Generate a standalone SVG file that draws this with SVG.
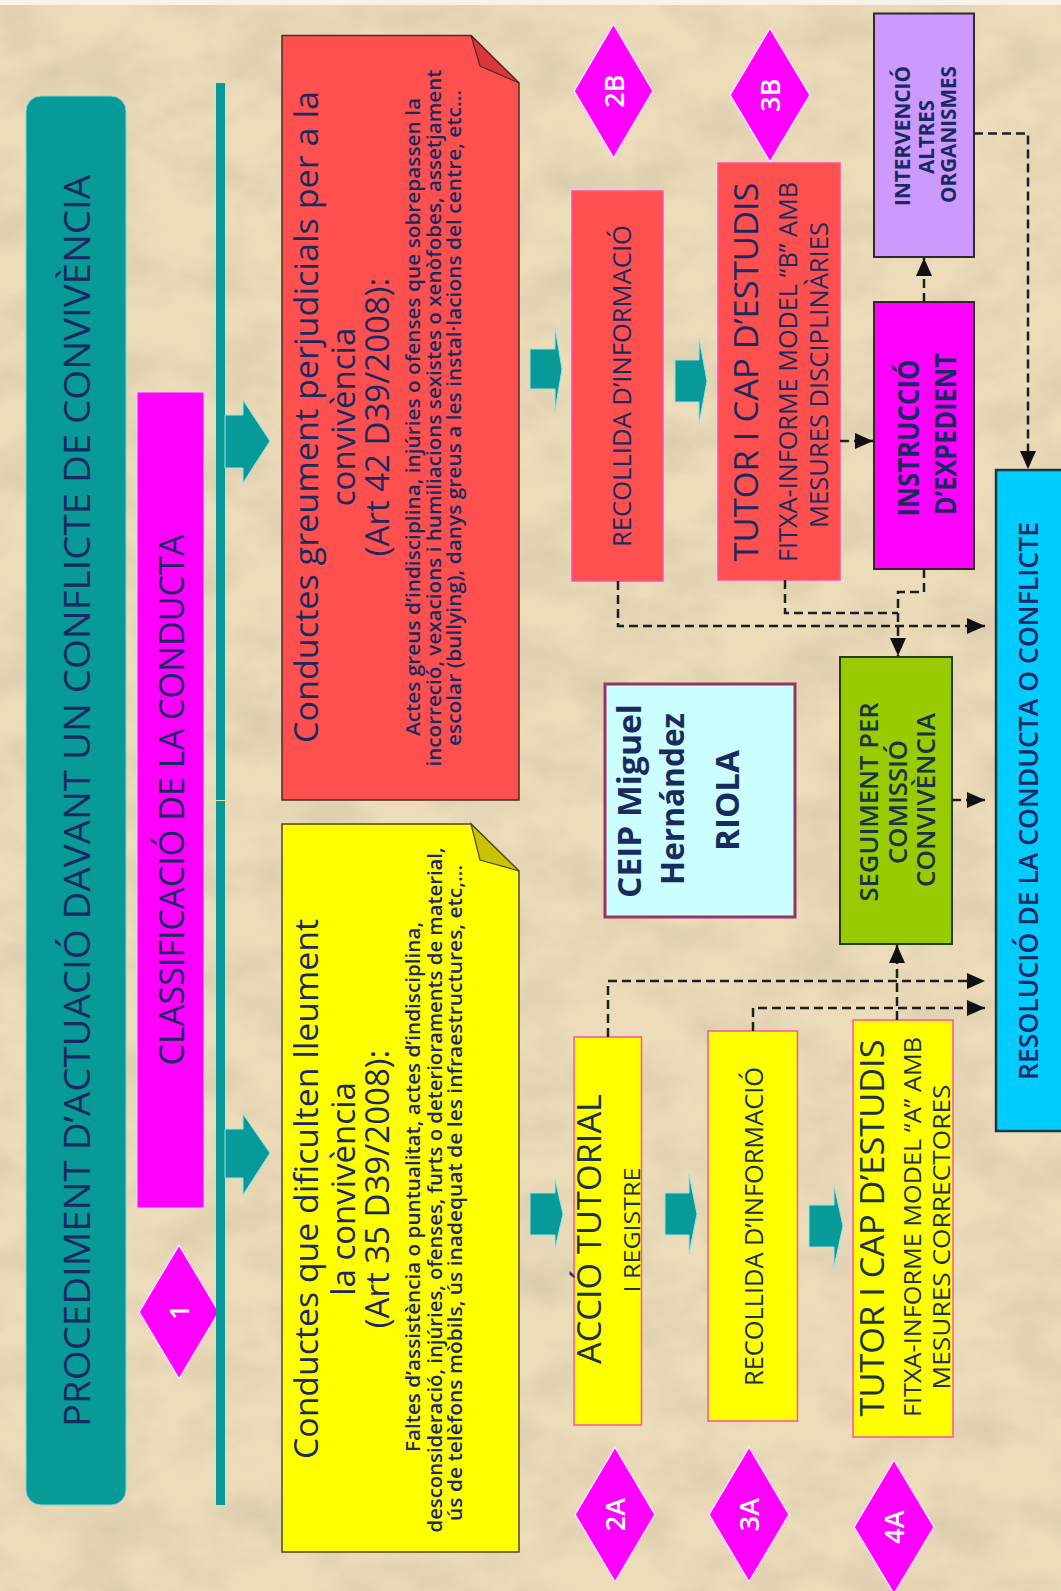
<svg xmlns="http://www.w3.org/2000/svg" width="1061" height="1591" viewBox="0 0 1061 1591">
<defs>
<style>
text{font-family:"Open Sans","Liberation Sans",sans-serif;text-anchor:middle}
.nv{fill:#1a2960}
.dk{fill:#1b3249}
.wt{fill:#ffffff;font-size:27px;font-weight:600}
.sm{font-size:19px;font-weight:600}
.teal{fill:#089a98;stroke:#9fe3dc;stroke-width:1}
.dia{fill:#ff00ff;stroke:#ffd9ff;stroke-width:1.5}
.pinkb{stroke:#ff4fa8;stroke-width:1.5}
.dark{stroke:#2f2a2a;stroke-width:2}
.con{fill:none;stroke:#1e1e1e;stroke-width:2.5;stroke-dasharray:9 5}
</style>
<marker id="ah" markerUnits="userSpaceOnUse" markerWidth="18" markerHeight="16" refX="18" refY="8" orient="auto"><path d="M0,0 L18,8 L0,16 Z" fill="#111111"/></marker>
<filter id="paper" x="0" y="0" width="1" height="1">
<feTurbulence type="fractalNoise" baseFrequency="0.014 0.02" numOctaves="4" seed="11"/>
<feColorMatrix type="matrix" values="0 0 0 0 0.60  0 0 0 0 0.51  0 0 0 0 0.36  1.0 0 0 0 -0.38"/>
</filter>
</defs>

<g id="background">
<rect width="1061" height="1591" fill="#ecdcba"/>
<rect width="1061" height="1591" fill="#ecdcba" filter="url(#paper)"/>
<rect width="1061" height="5" fill="#f7f3ea"/>
</g>

<g id="title">
<rect x="26" y="96" width="100" height="1409" rx="15" fill="#089a98" stroke="#7fd6d2" stroke-width="1"/>
<text class="nv" transform="rotate(-90)" x="-801" y="90" font-size="36" textLength="1252" lengthAdjust="spacingAndGlyphs">PROCEDIMENT D’ACTUACIÓ DAVANT UN CONFLICTE DE CONVIVÈNCIA</text>
</g>

<g id="classificacio">
<rect x="137" y="392" width="67" height="816" fill="#ff00ff" stroke="#f3c9f3" stroke-width="1"/>
<text class="nv" transform="rotate(-90)" x="-800" y="184" font-size="35" textLength="531" lengthAdjust="spacingAndGlyphs">CLASSIFICACIÓ DE LA CONDUCTA</text>
</g>

<g id="step1">
<polygon class="dia" points="179,1245 219,1312 179,1379 139,1312"/>
<text class="wt" transform="rotate(-90)" x="-1312" y="189" font-size="26">1</text>
</g>

<g id="branch-line">
<rect x="216" y="83" width="9" height="717" fill="#089a98"/>
<rect x="216" y="801" width="9" height="704" fill="#089a98"/>
<path class="teal" d="M225,415 H243 V400 L270,441 L243,483 V468 H225 Z"/>
<path class="teal" d="M225,1129 H243 V1114 L270,1153 L243,1195 V1178 H225 Z"/>
</g>

<g id="conductes-greus">
<path d="M282,35.5 H471 L519,83 V800 H282 Z" fill="#ff5050" stroke="#4d2a22" stroke-width="1.5"/>
<path d="M471,35.5 L480,66 L519,83 Z" fill="#d8363c" stroke="#4d2a22" stroke-width="1.2"/>
<text class="nv" transform="rotate(-90)" x="-417" y="318" font-size="33" textLength="652" lengthAdjust="spacingAndGlyphs">Conductes greument perjudicials per a la</text>
<text class="nv" transform="rotate(-90)" x="-417" y="355" font-size="33">convivència</text>
<text class="nv" transform="rotate(-90)" x="-417" y="389" font-size="33">(Art 42 D39/2008):</text>
<text class="nv sm" transform="rotate(-90)" x="-417" y="420" textLength="638" lengthAdjust="spacingAndGlyphs">Actes greus d’indisciplina, injúries o ofenses que sobrepassen la</text>
<text class="nv sm" transform="rotate(-90)" x="-418" y="441" textLength="697" lengthAdjust="spacingAndGlyphs">incorreció, vexacions i humiliacions sexistes o xenòfobes, assetjament</text>
<text class="nv sm" transform="rotate(-90)" x="-418" y="461" textLength="656" lengthAdjust="spacingAndGlyphs">escolar (bullying), danys greus a les instal·lacions del centre, etc…</text>
</g>

<g id="conductes-lleus">
<path d="M282,824 H471 L519,871 V1552 H282 Z" fill="#ffff00" stroke="#4d4722" stroke-width="1.5"/>
<path d="M471,824 L480,860 L519,871 Z" fill="#c9c400" stroke="#4d4722" stroke-width="1.2"/>
<text class="nv" transform="rotate(-90)" x="-1189" y="318" font-size="33" textLength="540" lengthAdjust="spacingAndGlyphs">Conductes que dificulten lleument</text>
<text class="nv" transform="rotate(-90)" x="-1189" y="355" font-size="33">la convivència</text>
<text class="nv" transform="rotate(-90)" x="-1189" y="389" font-size="33">(Art 35 D39/2008):</text>
<text class="nv sm" transform="rotate(-90)" x="-1187" y="420" textLength="530" lengthAdjust="spacingAndGlyphs">Faltes d’assistència o puntualitat, actes d’indisciplina,</text>
<text class="nv sm" transform="rotate(-90)" x="-1190" y="442" textLength="685" lengthAdjust="spacingAndGlyphs">desconsideració, injúries, ofenses, furts o deterioraments de material,</text>
<text class="nv sm" transform="rotate(-90)" x="-1193" y="462" textLength="656" lengthAdjust="spacingAndGlyphs">ús de telèfons mòbils, ús inadequat de les infraestructures, etc,…</text>
</g>

<g id="step-arrows">
<path class="teal" d="M530,349 H555 V327 L562,369 L555,411 V389 H530 Z"/>
<path class="teal" d="M675,360 H699 V338 L707,381 L699,424 V402 H675 Z"/>
<path class="teal" d="M530,1193 H555 V1179 L563,1214 L555,1249 V1235 H530 Z"/>
<path class="teal" d="M665,1193 H689 V1174 L697,1214 L689,1254 V1235 H665 Z"/>
<path class="teal" d="M809,1205 H834 V1185 L843,1226 L834,1267 V1247 H809 Z"/>
</g>

<g id="step2B">
<polygon class="dia" points="613.5,24 653,91 613.5,158 574,91"/>
<text class="wt" transform="rotate(-90)" x="-91" y="624">2B</text>
</g>
<g id="step3B">
<polygon class="dia" points="770,28 810,95 770,162 730,95"/>
<text class="wt" transform="rotate(-90)" x="-95" y="780">3B</text>
</g>
<g id="step2A">
<polygon class="dia" points="615,1447 655,1514.5 615,1582 575,1514.5"/>
<text class="wt" transform="rotate(-90)" x="-1514.5" y="625">2A</text>
</g>
<g id="step3A">
<polygon class="dia" points="749,1447 789,1514.5 749,1582 709,1514.5"/>
<text class="wt" transform="rotate(-90)" x="-1514.5" y="759">3A</text>
</g>
<g id="step4A">
<polygon class="dia" points="894,1460 934,1527 894,1594 854,1527"/>
<text class="wt" transform="rotate(-90)" x="-1527" y="904">4A</text>
</g>

<g id="recollida-B">
<rect class="pinkb" x="572" y="191" width="91" height="390" fill="#ff5050"/>
<text class="nv" transform="rotate(-90)" x="-386" y="631" font-size="26" font-weight="500" textLength="322" lengthAdjust="spacingAndGlyphs">RECOLLIDA D’INFORMACIÓ</text>
</g>

<g id="tutor-B">
<rect class="pinkb" x="718" y="163" width="122" height="417" fill="#ff5050"/>
<text class="nv" transform="rotate(-90)" x="-372" y="758" font-size="32" textLength="379" lengthAdjust="spacingAndGlyphs">TUTOR I CAP D’ESTUDIS</text>
<text class="nv" transform="rotate(-90)" x="-372" y="797" font-size="25" font-weight="500" textLength="380" lengthAdjust="spacingAndGlyphs">FITXA-INFORME MODEL “B” AMB</text>
<text class="nv" transform="rotate(-90)" x="-375" y="828" font-size="25" font-weight="500" textLength="306" lengthAdjust="spacingAndGlyphs">MESURES DISCIPLINÀRIES</text>
</g>

<g id="intervencio">
<rect class="dark" x="874" y="13.5" width="100" height="243.5" fill="#cc99ff"/>
<text class="nv" transform="rotate(-90)" x="-136" y="910" font-size="21" font-weight="700" textLength="140" lengthAdjust="spacingAndGlyphs">INTERVENCIÓ</text>
<text class="nv" transform="rotate(-90)" x="-137" y="934" font-size="21" font-weight="700" textLength="74" lengthAdjust="spacingAndGlyphs">ALTRES</text>
<text class="nv" transform="rotate(-90)" x="-134.5" y="956" font-size="21" font-weight="700" textLength="137" lengthAdjust="spacingAndGlyphs">ORGANISMES</text>
</g>

<g id="instruccio">
<rect class="dark" x="874" y="302" width="100" height="267" fill="#ff00ff"/>
<text class="nv" transform="rotate(-90)" x="-438" y="919" font-size="28" font-weight="700" textLength="157" lengthAdjust="spacingAndGlyphs">INSTRUCCIÓ</text>
<text class="nv" transform="rotate(-90)" x="-434" y="956" font-size="28" font-weight="700" textLength="162" lengthAdjust="spacingAndGlyphs">D’EXPEDIENT</text>
</g>

<g id="ceip">
<rect x="605" y="684" width="190" height="233" fill="#ccffff" stroke="#993366" stroke-width="3"/>
<text class="nv" transform="rotate(-90)" x="-801" y="641" font-size="32" font-weight="700" textLength="194" lengthAdjust="spacingAndGlyphs">CEIP Miguel</text>
<text class="nv" transform="rotate(-90)" x="-799" y="684" font-size="32" font-weight="700" textLength="172" lengthAdjust="spacingAndGlyphs">Hernández</text>
<text class="nv" transform="rotate(-90)" x="-800.5" y="739" font-size="32" font-weight="700" textLength="101" lengthAdjust="spacingAndGlyphs">RIOLA</text>
</g>

<g id="seguiment">
<rect x="840" y="657" width="112" height="287" fill="#99cc00" stroke="#2b3a1c" stroke-width="2"/>
<text class="dk" transform="rotate(-90)" x="-802" y="878" font-size="26" font-weight="600" textLength="199" lengthAdjust="spacingAndGlyphs">SEGUIMENT PER</text>
<text class="dk" transform="rotate(-90)" x="-802" y="907" font-size="26" font-weight="600" textLength="124" lengthAdjust="spacingAndGlyphs">COMISSIÓ</text>
<text class="dk" transform="rotate(-90)" x="-800" y="935" font-size="26" font-weight="600" textLength="174" lengthAdjust="spacingAndGlyphs">CONVIVÈNCIA</text>
</g>

<g id="resolucio">
<rect x="996" y="470" width="72" height="661" fill="#00ccff" stroke="#173848" stroke-width="2.5"/>
<text class="nv" transform="rotate(-90)" x="-801" y="1038" font-size="27" font-weight="600" textLength="558" lengthAdjust="spacingAndGlyphs">RESOLUCIÓ DE LA CONDUCTA O CONFLICTE</text>
</g>

<g id="accio-tutorial">
<rect class="pinkb" x="574" y="1037" width="67.5" height="388" fill="#ffff00"/>
<text class="dk" transform="rotate(-90)" x="-1229" y="601" font-size="32" textLength="270" lengthAdjust="spacingAndGlyphs">ACCIÓ TUTORIAL</text>
<text class="dk" transform="rotate(-90)" x="-1230" y="640" font-size="22" font-weight="500" textLength="125" lengthAdjust="spacingAndGlyphs">I REGISTRE</text>
</g>

<g id="recollida-A">
<rect class="pinkb" x="708" y="1031" width="89.5" height="390" fill="#ffff00"/>
<text class="dk" transform="rotate(-90)" x="-1226.5" y="763" font-size="26" font-weight="500" textLength="319" lengthAdjust="spacingAndGlyphs">RECOLLIDA D’INFORMACIÓ</text>
</g>

<g id="tutor-A">
<rect class="pinkb" x="853" y="1020" width="100" height="417" fill="#ffff00"/>
<text class="dk" transform="rotate(-90)" x="-1228" y="884" font-size="32" textLength="377" lengthAdjust="spacingAndGlyphs">TUTOR I CAP D’ESTUDIS</text>
<text class="dk" transform="rotate(-90)" x="-1227" y="921" font-size="24" font-weight="500" textLength="380" lengthAdjust="spacingAndGlyphs">FITXA-INFORME MODEL “A” AMB</text>
<text class="dk" transform="rotate(-90)" x="-1237" y="950" font-size="24" font-weight="500" textLength="305" lengthAdjust="spacingAndGlyphs">MESURES CORRECTORES</text>
</g>

<g id="connectors">
<path class="con" d="M924,302 V258" marker-end="url(#ah)"/>
<path class="con" d="M840,441 H873" marker-end="url(#ah)"/>
<path class="con" d="M974,133.5 H1028 V469" marker-end="url(#ah)"/>
<path class="con" d="M618,581 V626 H985" marker-end="url(#ah)"/>
<path class="con" d="M785,580 V613 H898"/>
<path class="con" d="M924,569 V592 H898 V656" marker-end="url(#ah)"/>
<path class="con" d="M952,800 H985" marker-end="url(#ah)"/>
<path class="con" d="M608,1037 V981 H985" marker-end="url(#ah)"/>
<path class="con" d="M753,1031 V1008 H985" marker-end="url(#ah)"/>
<path class="con" d="M897,1020 V945" marker-end="url(#ah)"/>
</g>
</svg>
